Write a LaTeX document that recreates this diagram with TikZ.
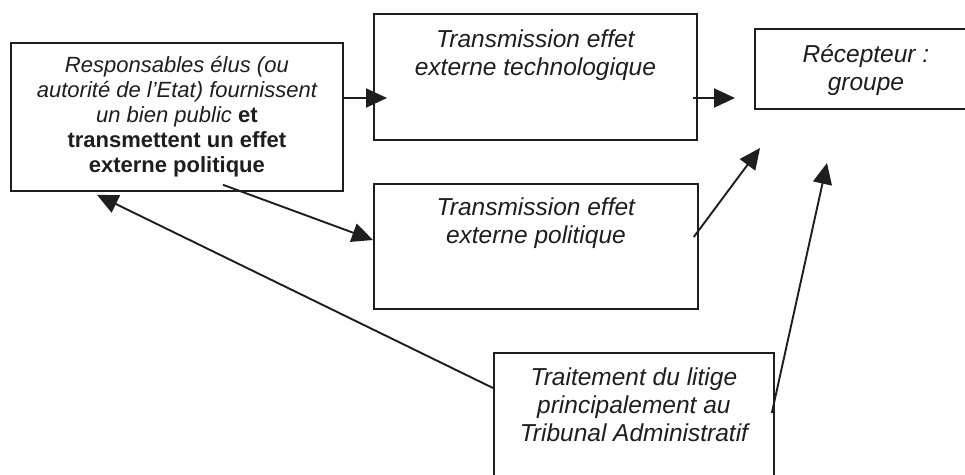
\documentclass[tikz,border=0pt]{standalone}
\usepackage{fontspec}
\setmainfont{Liberation Sans}
\usetikzlibrary{arrows.meta,calc}
\definecolor{ink}{HTML}{1E1E1E}
\tikzset{
  boxnode/.style={draw=ink, line width=1.8pt, inner sep=0pt, anchor=north west, text=ink},
  arr/.style={draw=ink, line width=1.9pt, -{Triangle[length=21pt,width=19pt]}},
}
\newcommand{\boxtext}[4]{\parbox[c][#2][t]{#1}{\centering\rule{0pt}{#3}#4}}
\newcommand{\bigfont}{\fontsize{24.5}{28}\selectfont}
\newcommand{\smallfont}{\fontsize{22}{25}\selectfont}
\begin{document}
\begin{tikzpicture}[x=1pt,y=-1pt]
\useasboundingbox (0,0) rectangle (965,474);
\clip (0,0) rectangle (965,474);
\fill[white] (0,0) rectangle (965,474);

\node[boxnode] (resp) at (10,42) {\boxtext{332pt}{148pt}{30pt}{\smallfont\itshape Responsables élus (ou\\autorité de l’Etat) fournissent\\un bien public \upshape\bfseries et\\transmettent un effet\\externe politique}};
\node[boxnode] (tech) at (373,13) {\boxtext{323pt}{126pt}{34pt}{\bigfont\itshape Transmission effet\\externe technologique}};
\node[boxnode] (recv) at (754,28) {\boxtext{222pt}{80pt}{34pt}{\bigfont\itshape Récepteur :\\groupe}};
\node[boxnode] (pol) at (373,183) {\boxtext{324pt}{125pt}{32pt}{\bigfont\itshape Transmission effet\\externe politique}};
\node[boxnode] (trait) at (493,352) {\boxtext{280pt}{140pt}{33pt}{\bigfont\itshape Traitement du litige\\principalement au\\Tribunal Administratif}};

\coordinate (a1t) at (387,98);
\coordinate (a2t) at (735,98);
\coordinate (a3t) at (760,148);
\coordinate (a4t) at (827,163);

\draw[arr] (resp.east |- a1t) -- (a1t);
\draw[arr] ([xshift=-5pt]tech.east |- a2t) -- (a2t);
\draw[arr] ($(pol.north east)+(-5,54)$) -- (a3t);
\draw[arr] ($(trait.north east)+(-3,61)$) -- (a4t);
\draw[arr] ($(resp.south west)+(213,-7)$) -- ($(pol.north west)+(0,57)$);
\draw[arr] ($(trait.north west)+(0,36)$) -- ($(resp.south west)+(87,3)$);
\end{tikzpicture}
\end{document}
